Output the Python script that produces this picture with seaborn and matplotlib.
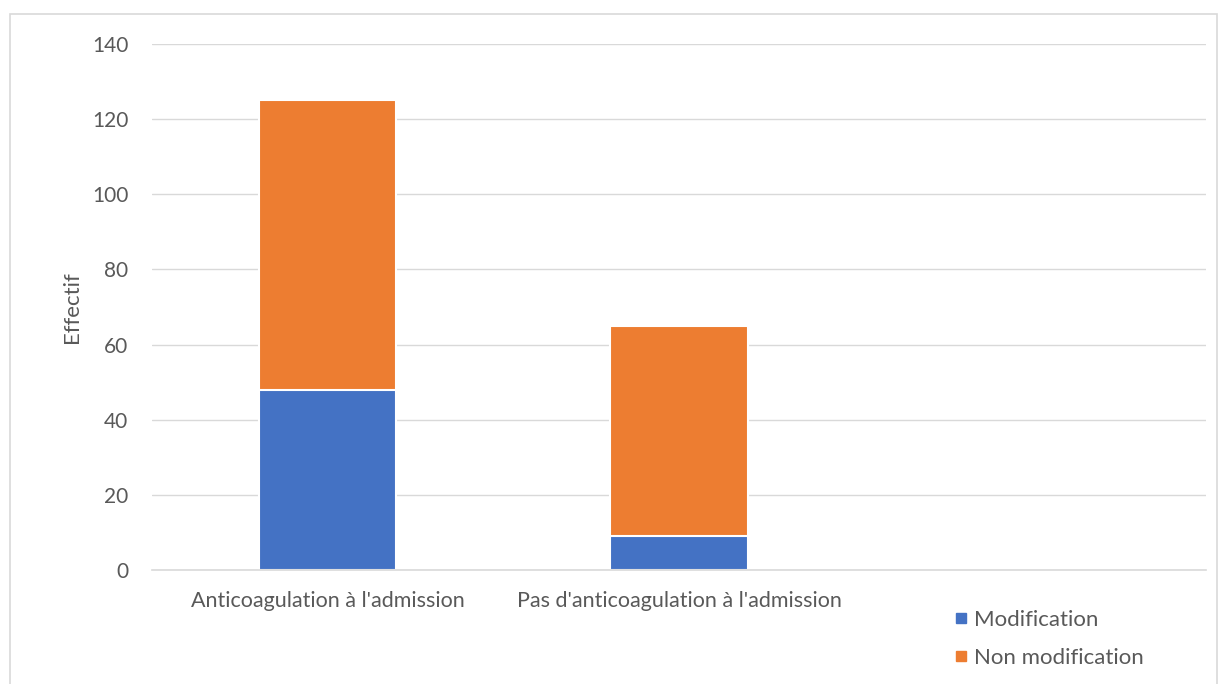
import matplotlib
matplotlib.use("Agg")
import matplotlib.pyplot as plt
from matplotlib.lines import Line2D
from matplotlib.patches import Rectangle
import pandas as pd
import seaborn as sns

categories = ["Anticoagulation à l'admission", "Pas d'anticoagulation à l'admission"]
modification = [48, 9]
non_modification = [77, 56]
slots = categories + [" "]

sns.set_theme(style="white")
plt.rcParams["font.family"] = ["Lato", "DejaVu Sans"]

grey_text = "#595959"
blue = "#4472C4"
orange = "#ED7D31"

df = pd.DataFrame({
    "categorie": categories,
    "Modification": modification,
    "Non modification": non_modification,
})
df["total"] = df["Modification"] + df["Non modification"]

fig = plt.figure(figsize=(12.2, 6.84), dpi=100)
ax = fig.add_axes([152 / 1220, 1 - 570 / 684, (1206 - 152) / 1220, (570 - 44) / 684])

sns.barplot(data=df, x="categorie", y="total", order=slots, color=orange,
            width=0.39, edgecolor="white", linewidth=1.5, ax=ax, saturation=1)
sns.barplot(data=df, x="categorie", y="Modification", order=slots, color=blue,
            width=0.39, edgecolor="white", linewidth=1.5, ax=ax, saturation=1)

ax.set_xlim(-0.5, 2.5)
ax.set_ylim(0, 140)
ax.set_yticks(range(0, 141, 20))
ax.yaxis.grid(True, color="#D9D9D9", linewidth=1)
ax.set_axisbelow(True)
for s in ["top", "right", "left"]:
    ax.spines[s].set_visible(False)
ax.spines["bottom"].set_color("#D9D9D9")
ax.spines["bottom"].set_linewidth(1.2)

ax.set_xticks([0, 1, 2])
ax.set_xticklabels(slots, fontsize=15.5, color=grey_text)
ax.set_xticks([-0.5, 0.5, 1.5, 2.5], minor=True)
ax.tick_params(axis="x", which="major", length=0, pad=15)
ax.tick_params(axis="x", which="minor", length=6, color="#D9D9D9", width=1.2)
ax.tick_params(axis="y", length=0, labelsize=15, labelcolor=grey_text, pad=17)
ax.set_xlabel("")
ax.set_ylabel("Effectif", fontsize=16, color=grey_text, labelpad=7)

handles = [
    Line2D([], [], marker="s", linestyle="", color=blue, markersize=7),
    Line2D([], [], marker="s", linestyle="", color=orange, markersize=7),
]
fig.legend(handles, ["Modification", "Non modification"], loc="upper left",
           bbox_to_anchor=(930 / 1220, 1 - 590 / 684), frameon=False,
           fontsize=16, labelcolor=grey_text, handletextpad=0.1,
           labelspacing=0.8, handlelength=1)

fig.patches.append(Rectangle((10 / 1220, -0.05), (1217 - 10) / 1220, 1.05 - 14 / 684,
                             transform=fig.transFigure, fill=False,
                             edgecolor="#D9D9D9", linewidth=1.2))

fig.savefig("out.png", dpi=100)
